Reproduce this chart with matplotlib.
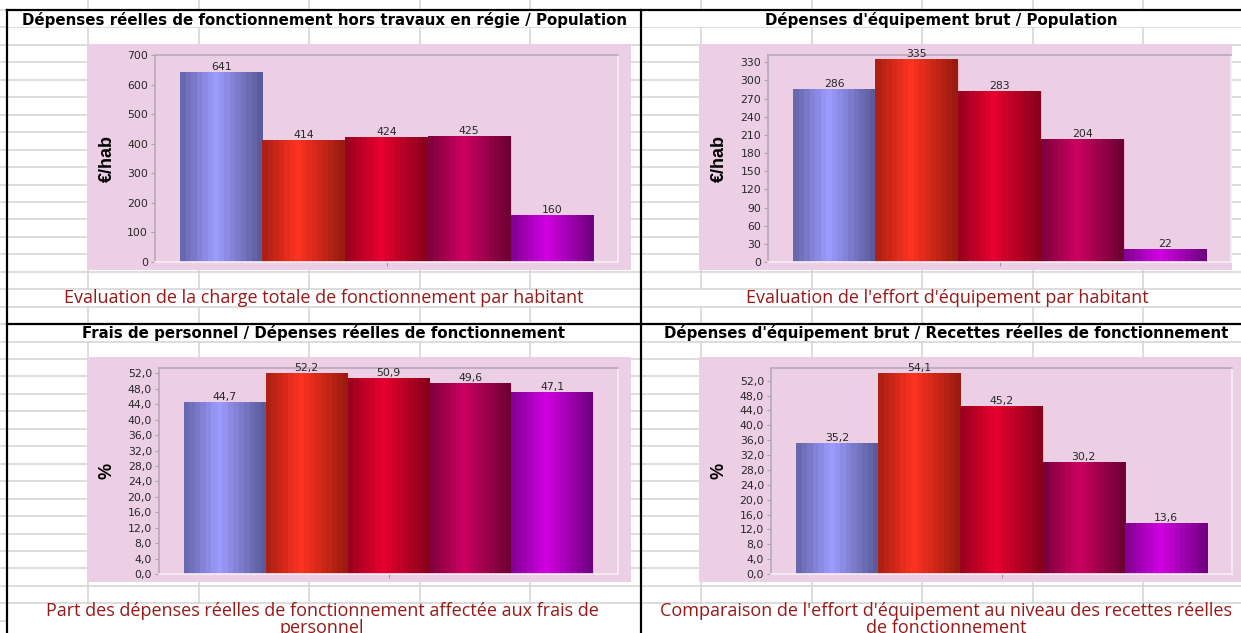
import numpy as np
import matplotlib
matplotlib.use("Agg")
import matplotlib.pyplot as plt
from matplotlib.patches import Rectangle
from matplotlib.ticker import FuncFormatter
from matplotlib.colors import to_rgb

# ---------------- data ----------------
categories = ["Commune", "Strate 1", "Strate 2", "Strate 3", "Strate 4"]

titles = [
    "Dépenses réelles de fonctionnement hors travaux en régie / Population",
    "Dépenses d'équipement brut / Population",
    "Frais de personnel / Dépenses réelles de fonctionnement",
    "Dépenses d'équipement brut / Recettes réelles de fonctionnement",
]
subtitles = [
    "Evaluation de la charge totale de fonctionnement par habitant",
    "Evaluation de l'effort d'équipement par habitant",
    "Part des dépenses réelles de fonctionnement affectée aux frais de\npersonnel",
    "Comparaison de l'effort d'équipement au niveau des recettes réelles\nde fonctionnement",
]
ylabels = ["€/hab", "€/hab", "%", "%"]

values_depfonct_pop = [641, 414, 424, 425, 160]
values_equip_pop = [286, 335, 283, 204, 22]
values_pers_depfonct = [44.7, 52.2, 50.9, 49.6, 47.1]
values_equip_recfonct = [35.2, 54.1, 45.2, 30.2, 13.6]

yticks_p1 = list(range(0, 701, 100))
yticks_p2 = list(range(0, 331, 30))
yticks_p3 = list(range(0, 53, 4))
yticks_p4 = list(range(0, 53, 4))

# ---------------- style ----------------
W, H = 1241, 633
PINK = "#ECCFE5"
GRID = "#D3D3D3"
SUB_RED = "#981818"
bar_dark = ["#5B5B9C", "#9A1C10", "#8A001C", "#6E0034", "#720082"]
bar_bright = ["#9C9CFF", "#FF3322", "#E8002F", "#CC0062", "#D000E2"]

fig = plt.figure(figsize=(W / 100, H / 100), dpi=100)
fig.patch.set_facecolor("white")

bg = fig.add_axes([0, 0, 1, 1], zorder=0)
bg.set_xlim(0, W)
bg.set_ylim(H, 0)
bg.axis("off")

# spreadsheet grid
row_h = 17.45
for k in range(-1, 40):
    y = 10 + k * row_h
    if 0 <= y <= H:
        bg.plot([0, W], [y, y], color=GRID, lw=1.1, zorder=1, solid_capstyle="butt")
for x in [88, 199, 309, 420, 530, 701, 812, 922, 1033, 1143]:
    bg.plot([x, x], [0, H], color=GRID, lw=1.1, zorder=1, solid_capstyle="butt")

# merged cells (title and subtitle rows)
def white_cell(x0, y0, x1, y1):
    bg.add_patch(Rectangle((x0, y0), x1 - x0, y1 - y0, facecolor="white",
                           edgecolor="none", zorder=2))

white_cell(8, 11, 640, 27)
white_cell(642, 11, W, 27)
white_cell(8, 10 + 16 * row_h + 1, 640, 10 + 17 * row_h - 1)
white_cell(642, 10 + 16 * row_h + 1, W, 10 + 17 * row_h - 1)
white_cell(8, 325, 640, 341)
white_cell(642, 325, W, 341)
white_cell(8, 10 + 34 * row_h + 1, 640, H)
white_cell(642, 10 + 34 * row_h + 1, W, H)

# black borders
bg.plot([7, W], [10, 10], color="black", lw=1.6, zorder=3)
bg.plot([7, W], [324, 324], color="black", lw=1.6, zorder=3)
bg.plot([7, 7], [10, H], color="black", lw=1.6, zorder=3)
bg.plot([641, 641], [10, H], color="black", lw=1.6, zorder=3)

# pink chart areas
pinks = [(87, 44, 631, 270), (699, 44, 1232, 270), (87, 357, 631, 582), (699, 357, W, 582)]
for (x0, y0, x1, y1) in pinks:
    bg.add_patch(Rectangle((x0, y0), x1 - x0, y1 - y0, facecolor=PINK,
                           edgecolor="none", zorder=4))

# titles and subtitles
title_pos = [(324, 20), (941, 20), (323, 333), (946, 333)]
sub_pos = [(324, 298), (947, 298), (322, 611), (946, 611)]
for i in range(4):
    bg.text(*title_pos[i], titles[i], ha="center", va="center", fontsize=10.8,
            fontweight="bold", family="DejaVu Sans", color="black", zorder=5)
    first, *rest = subtitles[i].split("\n")
    bg.text(*sub_pos[i], first, ha="center", va="center",
            fontsize=13, family="Open Sans", color=SUB_RED, zorder=5)
    for r in rest:
        bg.text(sub_pos[i][0], sub_pos[i][1] + 17, r, ha="center", va="center",
                fontsize=13, family="Open Sans", color=SUB_RED, zorder=5)

# ---------------- bar charts ----------------
axes_px = [(155, 55, 618, 262), (768, 55, 1231, 262), (159, 368, 618, 574), (771, 368, 1232, 574)]
ylims = [700, 342, 53.4, 55.4]
series = [values_depfonct_pop, values_equip_pop, values_pers_depfonct, values_equip_recfonct]
ytick_sets = [yticks_p1, yticks_p2, yticks_p3, yticks_p4]
ylab_x = [107, 719, 107, 719]

int_fmt = FuncFormatter(lambda v, p: f"{v:.0f}")
dec_fmt = FuncFormatter(lambda v, p: f"{v:.1f}".replace(".", ","))

prof_x = np.linspace(0, 1, 15)
prof_b = np.interp(prof_x, [0, 0.42, 1], [0.2, 1.0, 0.0])

for i in range(4):
    x0, y0, x1, y1 = axes_px[i]
    ax = fig.add_axes([x0 / W, 1 - y1 / H, (x1 - x0) / W, (y1 - y0) / H], zorder=5)
    ax.set_facecolor(PINK)
    xpos = np.arange(len(categories))
    bars = ax.bar(xpos, series[i], width=1.0, color=bar_bright,
                  edgecolor=(1, 0.9, 0.95, 0.6), linewidth=0.7, zorder=2)
    for j, b in enumerate(bars):
        d = np.array(to_rgb(bar_dark[j]))
        br = np.array(to_rgb(bar_bright[j]))
        img = (d[None, :] + (br - d)[None, :] * prof_b[:, None])[None, :, :]
        bx, by, bw, bh = b.get_x(), b.get_y(), b.get_width(), b.get_height()
        im = ax.imshow(img, extent=[bx, bx + bw, by, by + bh], aspect="auto",
                       interpolation="nearest", zorder=2.5)
        im.set_clip_path(b)
    ax.set_xlim(-0.8, 4.8)
    ax.set_ylim(0, ylims[i])
    ax.set_yticks(ytick_sets[i])
    ax.yaxis.set_major_formatter(int_fmt if i < 2 else dec_fmt)
    ax.set_xticks([2])
    ax.set_xticklabels([""])
    ax.tick_params(axis="x", length=3, color="#9A9A9A", direction="out", width=0.8)
    ax.tick_params(axis="y", length=3, color="#A8A0A8", labelsize=7.8,
                   labelcolor="#262626", pad=2, width=0.8)
    for lab in ax.get_yticklabels():
        lab.set_family("DejaVu Sans")
    ax.spines["left"].set_color("#B8AAB8")
    ax.spines["top"].set_color("#B8AAB8")
    ax.spines["right"].set_color("#F8F0F6")
    ax.spines["bottom"].set_color("#F8F0F6")
    for s in ax.spines.values():
        s.set_linewidth(1.2)
    labels = [f"{v:.0f}" if i < 2 else f"{v:.1f}".replace(".", ",") for v in series[i]]
    ax.bar_label(bars, labels=labels, padding=0, fontsize=7.8, color="#262626",
                 family="DejaVu Sans")
    bg.text(ylab_x[i], (y0 + y1) / 2, ylabels[i], rotation=90, ha="center", va="center",
            fontsize=13, fontweight="bold",
            family=["Liberation Sans Narrow", "Liberation Sans"], color="black", zorder=6)

fig.savefig("out.png", dpi=100)
